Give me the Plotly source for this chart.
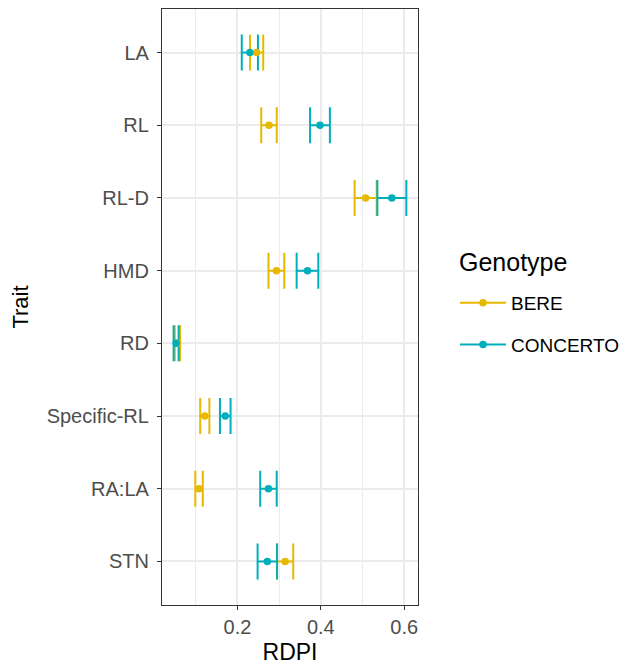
import plotly.graph_objects as go

traits = ["LA", "RL", "RL-D", "HMD", "RD", "Specific-RL", "RA:LA", "STN"]
genotypes = ["BERE", "CONCERTO"]
colors = {"BERE": "#E7B800", "CONCERTO": "#00AFBB"}

bere_mean = [0.246, 0.2756, 0.5076, 0.2934, 0.0559, 0.1216, 0.1078, 0.3144]
bere_err = [0.0158, 0.0186, 0.0265, 0.019, 0.0063, 0.011, 0.009, 0.0194]
concerto_mean = [0.2297, 0.398, 0.5705, 0.368, 0.0528, 0.1707, 0.2744, 0.2717]
concerto_err = [0.0194, 0.0238, 0.0348, 0.026, 0.006, 0.0127, 0.0198, 0.0234]

means = {"BERE": bere_mean, "CONCERTO": concerto_mean}
errs = {"BERE": bere_err, "CONCERTO": concerto_err}

font_family = "Liberation Sans, Arial, sans-serif"

fig = go.Figure()

# error bars (drawn first, like geom_errorbar)
for g in genotypes:
    fig.add_trace(go.Scatter(
        x=means[g], y=traits, mode="markers",
        marker=dict(size=0.1, color=colors[g], opacity=0),
        error_x=dict(type="data", array=errs[g], symmetric=True,
                     color=colors[g], thickness=2, width=18),
        showlegend=False, hoverinfo="skip",
    ))

# points
for g in genotypes:
    fig.add_trace(go.Scatter(
        x=means[g], y=traits, mode="markers",
        marker=dict(size=7.5, color=colors[g]),
        showlegend=False, name=g,
    ))

# legend keys (line + point)
for g in genotypes:
    fig.add_trace(go.Scatter(
        x=[None], y=[None], mode="lines+markers", name=g,
        line=dict(color=colors[g], width=2),
        marker=dict(size=7.5, color=colors[g]),
        legendgroup=g, showlegend=True,
    ))

data_lo = min(m - e for gg in genotypes for m, e in zip(means[gg], errs[gg]))
data_hi = max(m + e for gg in genotypes for m, e in zip(means[gg], errs[gg]))
pad = 0.05 * (data_hi - data_lo)

fig.update_layout(
    width=620, height=658,
    margin=dict(l=154, r=210, t=1, b=61),
    paper_bgcolor="white", plot_bgcolor="white",
    font=dict(family=font_family, size=19, color="#4D4D4D"),
    legend=dict(
        font=dict(size=19, color="black"),
        x=1.1445, xanchor="left", y=0.4715, yanchor="middle",
        tracegroupgap=14, itemwidth=46,
    ),
    annotations=[dict(
        text="Genotype", xref="paper", yref="paper",
        x=1.152, y=0.5755, xanchor="left", yanchor="middle",
        showarrow=False, font=dict(size=25, color="black"),
    )],
    xaxis=dict(
        title=dict(text="RDPI", font=dict(size=23, color="black"), standoff=6),
        range=[data_lo - pad, data_hi + pad],
        tick0=0, dtick=0.2, tickformat=".1f",
        showgrid=True, gridcolor="#EBEBEB", gridwidth=1.6,
        minor=dict(dtick=0.1, showgrid=True, gridcolor="#EBEBEB", gridwidth=0.9),
        showline=True, mirror=True, linecolor="#333333", linewidth=1.2,
        ticks="outside", ticklen=4, tickcolor="#333333", tickwidth=1.2,
        zeroline=False,
        tickfont=dict(size=20, color="#4D4D4D"),
    ),
    yaxis=dict(
        title=dict(text="Trait", font=dict(size=22, color="black"), standoff=12),
        type="category", categoryorder="array", categoryarray=traits[::-1],
        range=[-0.6, 7.6],
        showgrid=True, gridcolor="#EBEBEB", gridwidth=1.6,
        showline=True, mirror=True, linecolor="#333333", linewidth=1.2,
        ticks="outside", ticklen=4, tickcolor="#333333", tickwidth=1.2,
        ticklabelstandoff=4,
        zeroline=False,
        tickfont=dict(size=20, color="#4D4D4D"),
    ),
)

fig.write_html("out.html")
